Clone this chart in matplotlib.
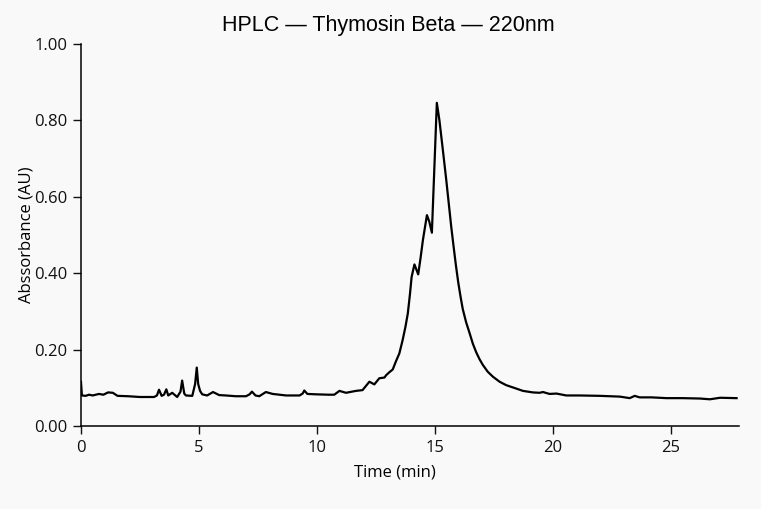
import numpy as np
import matplotlib
matplotlib.use("Agg")
import matplotlib.pyplot as plt
from matplotlib.ticker import FormatStrFormatter

# chromatogram trace (time in min, absorbance in AU)
time_min = [0.0, 0.04, 0.2, 0.34, 0.5, 0.76, 0.95, 1.15, 1.35, 1.55, 2.0, 2.5,
            3.1, 3.22, 3.31, 3.42, 3.52, 3.62, 3.7, 3.87, 4.08, 4.22, 4.29, 4.38,
            4.45, 4.72, 4.84, 4.91, 4.97, 5.05, 5.14, 5.35, 5.6, 5.86, 6.14, 6.57,
            7.0, 7.15, 7.25, 7.4, 7.56, 7.84, 8.13, 8.7, 9.27, 9.4, 9.47, 9.6,
            9.96, 10.5, 10.74, 10.96, 11.24, 11.66, 11.94, 12.23, 12.44, 12.65,
            12.87, 12.94, 13.08, 13.22, 13.36, 13.5, 13.64, 13.76, 13.86, 13.95,
            14.02, 14.14, 14.3, 14.4, 14.5, 14.67, 14.77, 14.88, 15.09, 15.2,
            15.35, 15.49, 15.6, 15.7, 15.8, 15.9, 16.0, 16.1, 16.19, 16.33,
            16.48, 16.62, 16.76, 16.9, 17.04, 17.25, 17.47, 17.75, 18.03, 18.46,
            18.74, 19.16, 19.45, 19.59, 19.87, 20.16, 20.58, 21.15, 22.0, 22.85,
            23.27, 23.48, 23.69, 24.2, 24.83, 25.5, 26.24, 26.67, 27.1, 27.8]
absorb_au = [0.116, 0.08, 0.079, 0.082, 0.08, 0.084, 0.082, 0.088, 0.087, 0.079, 0.078, 0.076,
             0.076, 0.08, 0.095, 0.079, 0.082, 0.096, 0.08, 0.087, 0.076, 0.09, 0.119, 0.085,
             0.08, 0.079, 0.11, 0.153, 0.11, 0.092, 0.083, 0.08, 0.089, 0.081, 0.08, 0.078,
             0.078, 0.083, 0.09, 0.08, 0.078, 0.089, 0.084, 0.08, 0.08, 0.085, 0.093, 0.084,
             0.083, 0.082, 0.082, 0.092, 0.087, 0.092, 0.094, 0.116, 0.109, 0.125,
             0.127, 0.133, 0.141, 0.148, 0.17, 0.19, 0.225, 0.26, 0.295, 0.345,
             0.39, 0.423, 0.397, 0.44, 0.487, 0.552, 0.535, 0.506, 0.846, 0.80,
             0.72, 0.644, 0.58, 0.522, 0.47, 0.42, 0.375, 0.337, 0.306, 0.272,
             0.243, 0.215, 0.193, 0.175, 0.16, 0.142, 0.129, 0.116, 0.107, 0.098,
             0.092, 0.088, 0.087, 0.089, 0.084, 0.085, 0.08, 0.08, 0.079, 0.077,
             0.073, 0.079, 0.075, 0.075, 0.073, 0.073, 0.072, 0.07, 0.074, 0.073]

x_ticks = [0, 5, 10, 15, 20, 25]
y_ticks = [0.0, 0.2, 0.4, 0.6, 0.8, 1.0]

plt.rcParams['font.family'] = ['Open Sans', 'DejaVu Sans']
bg = '#f9f9f9'

fig = plt.figure(figsize=(7.61, 5.09), dpi=100, facecolor=bg)
ax = fig.add_axes([0.1064, 0.163, 0.8646, 0.7506], facecolor=bg)

ax.plot(time_min, absorb_au, color='black', lw=1.6, solid_joinstyle='round')

ax.set_xlim(0, 27.9)
ax.set_ylim(0, 1.0)
ax.set_xticks(x_ticks)
ax.set_yticks(y_ticks)
ax.yaxis.set_major_formatter(FormatStrFormatter('%.2f'))
ax.tick_params(labelsize=12, length=6, width=1, colors='#111111', pad=4)

for s in ['top', 'right']:
    ax.spines[s].set_visible(False)
for s in ['left', 'bottom']:
    ax.spines[s].set_linewidth(1.1)

ax.set_xlabel('Time (min)', fontsize=12)
ax.xaxis.set_label_coords(0.477, -0.1)
ax.set_ylabel('Abssorbance (AU)', fontsize=12)
ax.yaxis.set_label_coords(-0.07, 0.5)
ax.set_title('HPLC \u2014 Thymosin Beta \u2014 220nm', fontsize=15.5,
             family=['Liberation Sans', 'DejaVu Sans'], x=0.467, pad=9)

fig.savefig('out.png', dpi=100, facecolor=bg)
